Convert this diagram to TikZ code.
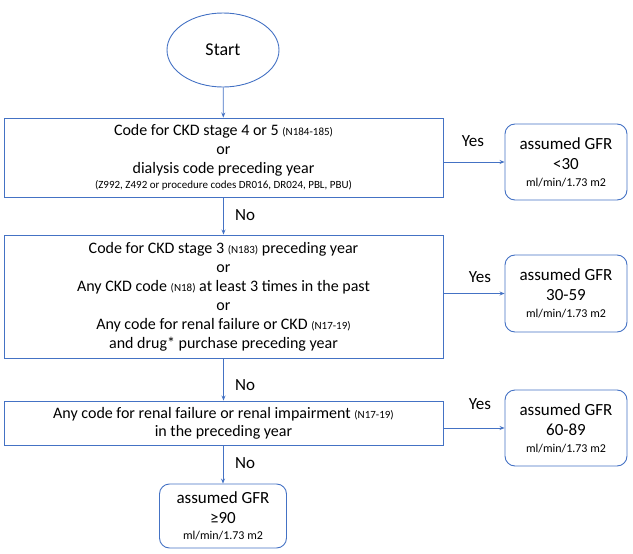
\documentclass[tikz,border=0pt]{standalone}
\usepackage{fontspec}
\setmainfont{Carlito}
\usepackage{tikz}
\usetikzlibrary{shapes.geometric,arrows.meta}
\definecolor{flowblue}{RGB}{68,114,196}
\tikzset{
  font={\fontsize{16pt}{19pt}\selectfont}}
\newcommand{\codes}[1]{{\fontsize{11pt}{13pt}\selectfont #1}}
\newcommand{\units}{{\fontsize{12pt}{14pt}\selectfont ml/min/1.73 m2}}

\begin{document}
\begin{tikzpicture}[x=1pt,y=1pt]
\tikzstyle{every node}+=[inner sep=0pt]
\tikzstyle{test}=[draw=flowblue, line width=0.9pt, align=center, minimum width=439pt]
\tikzstyle{result}=[draw=flowblue, line width=0.9pt, rounded corners=10pt, align=center, minimum width=122pt, minimum height=76pt, font={\fontsize{17pt}{20pt}\selectfont}]
\tikzstyle{flow}=[flowblue, line width=0.8pt, -{Stealth[length=5pt,width=4pt]}]
\tikzstyle{answer}=[font={\fontsize{17pt}{20pt}\selectfont}]
\useasboundingbox (0,0) rectangle (633,-554);
\node [ellipse, draw=flowblue, line width=0.9pt, minimum width=112pt, minimum height=74pt, font={\fontsize{18pt}{20pt}\selectfont}] (start) at (223,-50) {Start};
\node [test, minimum height=79pt] (stage45) at (223.5,-157.5) {Code for CKD stage 4 or 5 \codes{(N184-185)}\\ or\\ dialysis code preceding year\\[-4pt] \codes{(Z992, Z492 or procedure codes DR016, DR024, PBL, PBU)}};
\node [test, minimum height=123pt] (stage3) at (223.5,-296.5) {Code for CKD stage 3 \codes{(N183)} preceding year\\ or\\ Any CKD code \codes{(N18)} at least 3 times in the past\\ or\\ Any code for renal failure or CKD \codes{(N17-19)}\\ and drug* purchase preceding year};
\node [test, minimum height=44pt] (renal) at (223.5,-423) {Any code for renal failure or renal impairment \codes{(N17-19)}\\[-1pt] in the preceding year};
\node [result] (gfr30) at (566,-162) {assumed GFR\\ {<}30\\[-3pt] \units};
\node [result, minimum height=77pt] (gfr59) at (566,-293.5) {assumed GFR\\ 30-59\\[-3pt] \units};
\node [result] (gfr89) at (566,-428) {assumed GFR\\ 60-89\\[-3pt] \units};
\node [result, minimum width=127pt, minimum height=64pt] (gfr90) at (223,-516) {assumed GFR\\ ≥90\\[-4pt] \units};
% yes / no labels
\node [answer] (yes1) at (473,-141) {Yes};
\node [answer] (yes2) at (480,-277) {Yes};
\node [answer] (yes3) at (480,-404) {Yes};
\node [answer, anchor=west] (no1) at (235,-215) {No};
\node [answer, anchor=west] (no2) at (235,-385) {No};
\node [answer, anchor=west] (no3) at (235,-463) {No};
% connectors
\draw [flow] (start) -- (stage45);
\draw [flow] (stage45) -- (stage3);
\draw [flow] (stage3) -- (renal);
\draw [flow] (renal.south -| gfr90) -- (gfr90);
\draw [flow] (gfr30.west -| stage45.east) -- (gfr30.west);
\draw [flow] (gfr59.west -| stage3.east) -- (gfr59.west);
\draw [flow] (gfr89.west -| renal.east) -- (gfr89.west);
\end{tikzpicture}
\end{document}
